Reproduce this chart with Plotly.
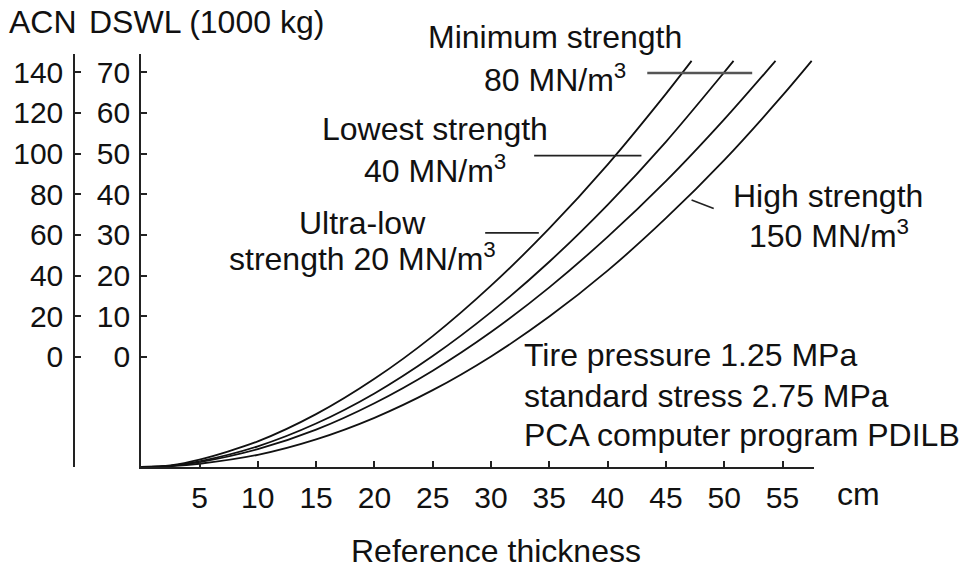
import plotly.graph_objects as go

# ---------------- data ----------------
thickness_ticks = [5, 10, 15, 20, 25, 30, 35, 40, 45, 50, 55]
dswl_ticks = [0, 10, 20, 30, 40, 50, 60, 70]
acn_ticks = [0, 20, 40, 60, 80, 100, 120, 140]

# Ultra-low strength 20 MN/m3
x_k20 = [0, 2.5, 5, 10, 15, 20, 25, 30, 35, 40, 45, 47.2]
y_k20 = [-27.1, -26.7, -25.3, -20.8, -14.1, -5.4, 5.1, 17.5, 31.6, 47.3, 64.7, 72.8]
# Lowest strength 40 MN/m3
x_k40 = [0, 2.5, 5, 10, 15, 20, 25, 30, 35, 40, 45, 50, 50.8]
y_k40 = [-27.1, -26.8, -25.7, -22.0, -16.4, -9.0, 0.2, 11.0, 23.4, 37.4, 52.9, 70.0, 72.8]
# Minimum strength 80 MN/m3
x_k80 = [0, 2.5, 5, 10, 15, 20, 25, 30, 35, 40, 45, 50, 54.4]
y_k80 = [-27.1, -26.8, -25.9, -22.7, -17.9, -11.4, -3.4, 6.1, 17.1, 29.5, 43.2, 58.4, 72.8]
# High strength 150 MN/m3
x_k150 = [0, 2.5, 5, 10, 15, 20, 25, 30, 35, 40, 45, 50, 55, 57.5]
y_k150 = [-27.1, -26.9, -26.3, -24.1, -20.3, -15.0, -8.2, 0.1, 9.9, 21.2, 34.1, 48.4, 64.3, 72.8]

curve_names = ["Ultra-low strength 20 MN/m³", "Lowest strength 40 MN/m³",
               "Minimum strength 80 MN/m³", "High strength 150 MN/m³"]

# ---------------- geometry ----------------
W, H = 970, 571
ML, MR, MT, MB = 60, 156, 54, 104.3
PW = W - ML - MR
PH = H - MT - MB
X_MIN, X_MAX = 0, 57.7
Y_MIN, Y_MAX = -27.1, 74.5


def px(x):
    return (x - ML) / PW


def py(y):
    return (H - MB - y) / PH


FONT = "Liberation Sans, Arial, Helvetica, sans-serif"
TXT = "#111111"
TICK_SIZE = 30
TEXT_SIZE = 32

fig = go.Figure()
for xs, ys, name in zip([x_k20, x_k40, x_k80, x_k150],
                        [y_k20, y_k40, y_k80, y_k150], curve_names):
    fig.add_trace(go.Scatter(x=xs, y=ys, mode="lines", name=name,
                             line=dict(color="#111111", width=1.8, shape="spline", smoothing=0.8),
                             showlegend=False, hoverinfo="skip"))

# invisible trace on the ACN axis so it is drawn
fig.add_trace(go.Scatter(x=[None], y=[None], yaxis="y2", showlegend=False))

fig.update_layout(
    width=W, height=H,
    margin=dict(l=ML, r=MR, t=MT, b=MB, pad=0),
    paper_bgcolor="white", plot_bgcolor="white",
    font=dict(family=FONT, size=TICK_SIZE, color=TXT),
    showlegend=False,
    xaxis=dict(domain=[px(141.2), 1], range=[X_MIN, X_MAX], showgrid=False, zeroline=False,
               showline=True, linecolor="#222", linewidth=2,
               ticks="inside", ticklen=6, tickwidth=1.5, tickcolor="#222",
               tickvals=thickness_ticks, ticktext=[str(v) for v in thickness_ticks],
               ticklabelstandoff=3, automargin=False,
               tickfont=dict(size=TICK_SIZE, family=FONT, color=TXT)),
    yaxis=dict(range=[Y_MIN, Y_MAX], showgrid=False, zeroline=False,
               showline=True, linecolor="#222", linewidth=2,
               ticks="inside", ticklen=6, tickwidth=1.5, tickcolor="#222",
               tickvals=dswl_ticks, ticktext=[str(v) for v in dswl_ticks],
               ticklabelstandoff=3, automargin=False, anchor="x",
               tickfont=dict(size=TICK_SIZE, family=FONT, color=TXT)),
    yaxis2=dict(range=[2 * Y_MIN, 2 * Y_MAX], overlaying="y", side="left", anchor="free",
                position=px(74.3), showgrid=False, zeroline=False,
                showline=True, linecolor="#222", linewidth=2,
                ticks="inside", ticklen=6, tickwidth=1.5, tickcolor="#222",
                tickvals=acn_ticks, ticktext=[str(v) for v in acn_ticks],
                ticklabelstandoff=4, automargin=False,
                tickfont=dict(size=TICK_SIZE, family=FONT, color=TXT)),
)

# leader lines (data coordinates)
leaders = [
    (43.4, 69.85, 52.4, 69.85, "#555555", 2.5),
    (33.7, 49.5, 42.9, 49.5, "#222222", 1.6),
    (29.5, 30.5, 34.1, 30.5, "#222222", 1.6),
    (47.2, 38.6, 49.1, 36.5, "#222222", 1.6),
]
for x0, y0, x1, y1, c, w in leaders:
    fig.add_shape(type="line", xref="x", yref="y", x0=x0, y0=y0, x1=x1, y1=y1,
                  line=dict(color=c, width=w))

# text labels: (text, x_px, y_px, xanchor)
labels = [
    ("ACN", 7.5, 22.5, "left"),
    ("DSWL (1000 kg)", 88, 22.5, "left"),
    ("Minimum strength", 555, 37.5, "center"),
    ("80 MN/m<sup>3</sup>", 555, 78, "center"),
    ("Lowest strength", 435, 128.5, "center"),
    ("40 MN/m<sup>3</sup>", 435, 169, "center"),
    ("Ultra-low", 362, 223, "center"),
    ("strength 20 MN/m<sup>3</sup>", 362, 256.5, "center"),
    ("High strength", 828, 196, "center"),
    ("150 MN/m<sup>3</sup>", 829, 233.5, "center"),
    ("Tire pressure 1.25 MPa", 523, 355, "left"),
    ("standard stress 2.75 MPa", 523, 395.5, "left"),
    ("PCA computer program PDILB", 523, 434.5, "left"),
    ("cm", 858.5, 494, "center"),
    ("Reference thickness", 495.5, 551, "center"),
]
for text, x, y, xa in labels:
    fig.add_annotation(text=text, xref="paper", yref="paper", x=px(x), y=py(y),
                       xanchor=xa, yanchor="middle", showarrow=False,
                       font=dict(family=FONT, size=TEXT_SIZE, color=TXT), borderpad=0)

fig.write_html("out.html", config={"displayModeBar": False},
               post_script="document.body.style.margin='0';")
